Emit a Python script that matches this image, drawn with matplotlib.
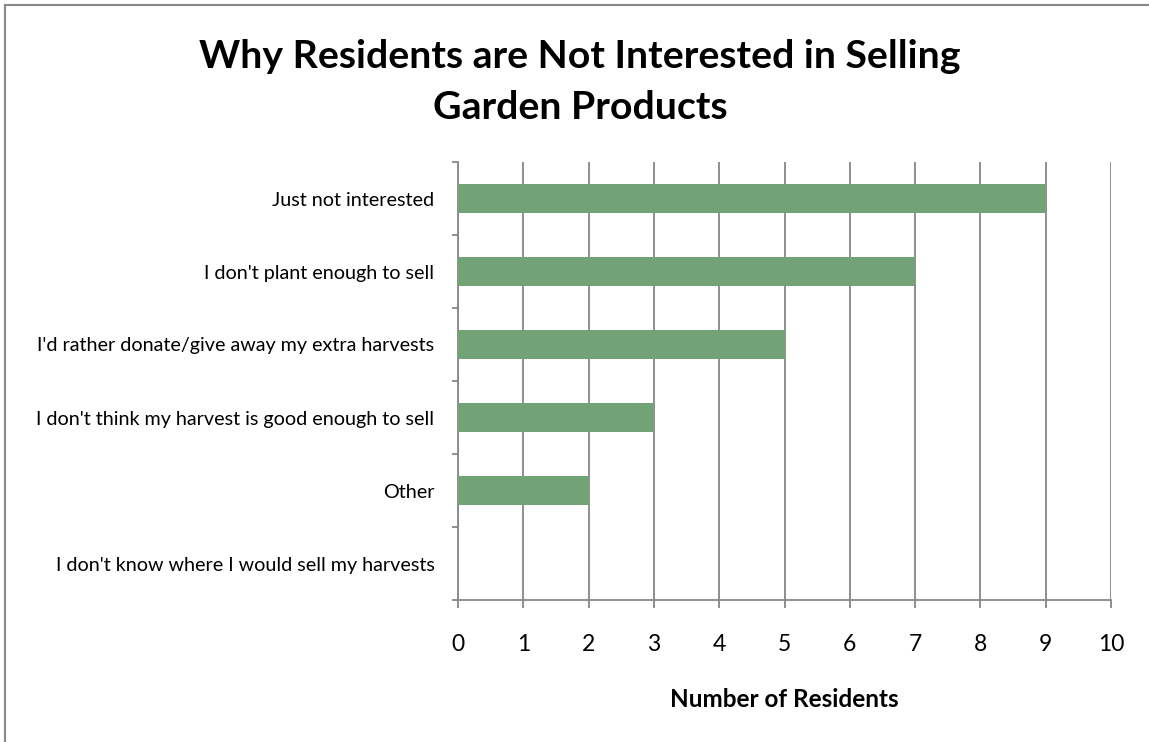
import numpy as np
import matplotlib.pyplot as plt
from matplotlib.lines import Line2D

plt.rcParams['font.family'] = ['Lato', 'DejaVu Sans']

reasons = [
    "Just not interested",
    "I don't plant enough to sell",
    "I'd rather donate/give away my extra harvests",
    "I don't think my harvest is good enough to sell",
    "Other",
    "I don't know where I would sell my harvests",
]
residents = [9, 7, 5, 3, 2, 0]
x_ticks = list(range(0, 11))

bar_color = '#72A377'
grey = '#878787'

W, H = 1149, 742
fig = plt.figure(figsize=(W / 100, H / 100), dpi=100)
ax = fig.add_axes([458 / W, 1 - 600 / H, (1111 - 458) / W, (600 - 162) / H])

pos = np.arange(len(reasons))
ax.barh(pos, residents, height=0.4, color=bar_color, zorder=3)

ax.set_ylim(len(reasons) - 0.5, -0.5)
ax.set_xlim(0, 10)
ax.set_xticks(x_ticks)
ax.set_xticklabels([str(t) for t in x_ticks], fontsize=16.5)
ax.set_yticks(pos)
ax.set_yticklabels(reasons, fontsize=14.2)
ax.set_yticks(np.arange(-0.5, len(reasons), 1.0), minor=True)

ax.tick_params(axis='y', which='major', length=0, pad=17)
ax.tick_params(axis='y', which='minor', length=4.5, width=1.3, color=grey, direction='out')
ax.tick_params(axis='x', length=5.5, width=1.3, color=grey, direction='out', pad=19)

ax.grid(axis='x', color=grey, linewidth=1.3, zorder=1)
for side in ['top', 'right']:
    ax.spines[side].set_visible(False)
for side in ['left', 'bottom']:
    ax.spines[side].set_color(grey)
    ax.spines[side].set_linewidth(1.3)

ax.set_xlabel("Number of Residents", fontsize=17.5, fontweight='bold', labelpad=24)

fig.text(0.505, 0.889, "Why Residents are Not Interested in Selling\nGarden Products",
         ha='center', va='center', fontsize=28.3, fontweight='bold', linespacing=1.55)

# chart border (left and top edges)
fig.add_artist(Line2D([5 / W, 5 / W], [0, 1 - 5 / H], color=grey, linewidth=1.5))
fig.add_artist(Line2D([5 / W, 1], [1 - 5 / H, 1 - 5 / H], color=grey, linewidth=1.5))

fig.savefig('out.png', dpi=100, facecolor='white')
